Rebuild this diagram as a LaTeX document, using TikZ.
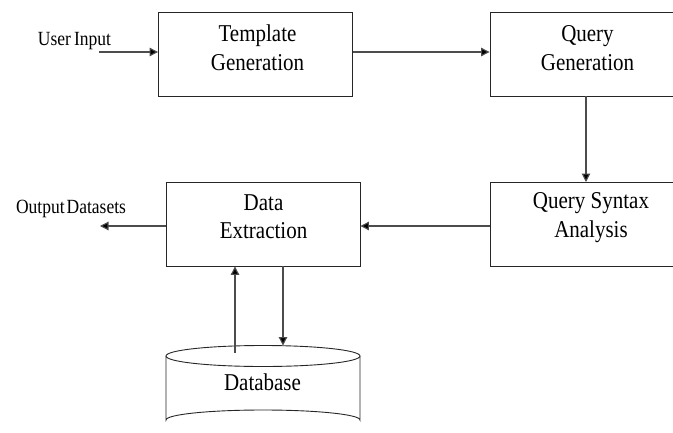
\documentclass[tikz,border=0pt]{standalone}
\usepackage{fontspec}
\setmainfont{Liberation Serif}
\usetikzlibrary{arrows.meta}
% slightly tall lettering
\newcommand{\tallword}[1]{\scalebox{1}[1.15]{#1}}
\begin{document}
\begin{tikzpicture}[x=1pt,y=-1pt,
  block/.style={draw=black!85,line width=0.9pt,minimum width=194pt,minimum height=84pt,inner sep=0pt},
  btext/.style={inner sep=0pt,anchor=base,font=\fontsize{21}{24}\selectfont},
  lbl/.style={inner sep=0pt,anchor=base,font=\fontsize{17.5}{20}\selectfont},
  flow/.style={draw=black!70,line width=1.1pt,-{Triangle[length=8.5pt,width=8.5pt,fill=black]}}]
\useasboundingbox (0,0) rectangle (673,432);
\clip (0,0) rectangle (673,432);

% process boxes
\node[block] (tg)  at (255.5,54) {};
\node[block] (qg)  at (587,54)   {};
\node[block] (qsa) at (587,224)  {};
\node[block] (de)  at (263,224)  {};

% box texts
\node[btext] (tg1)  at (257.5,41)  {\tallword{Template}};
\node[btext] (tg2)  at (257.5,70)  {\tallword{Generation}};
\node[btext] (qg1)  at (587.5,41)  {\tallword{Query}};
\node[btext] (qg2)  at (587.5,70)  {\tallword{Generation}};
\node[btext] (qsa1) at (591,208)   {\tallword{Query Syntax}};
\node[btext] (qsa2) at (591,237)   {\tallword{Analysis}};
\node[btext] (de1)  at (263.5,210) {\tallword{Data}};
\node[btext] (de2)  at (263.5,238) {\tallword{Extraction}};

% database cylinder
\draw[black!85,line width=0.9pt,fill=white]
  (166,356) -- (166,420) arc[start angle=180,end angle=360,x radius=97,y radius=10]
  -- (360,356);
\draw[black!85,line width=0.9pt] (263,356) ellipse[x radius=97,y radius=10.5];
\node[btext] (db) at (262.5,390) {\tallword{Database}};
\coordinate (dbup) at (235,353);
\coordinate (dbdown) at (283,345.5);

% free ends and labels
\coordinate (uin) at (99,52);
\coordinate (out) at (100,226);
\node[lbl] (ulbl) at (74.5,45) {\tallword{User\hspace{0.18em}Input}};
\node[lbl] (olbl) at (71,213) {\tallword{Output\hspace{0.12em}Datasets}};

% connectors
\draw[flow] (uin) -- (uin -| tg.west);
\draw[flow] (tg.east |- uin) -- (qg.west |- uin);
\draw[flow] (586,96) -- (586,182);
\draw[flow] (qsa.west |- out) -- (de.east |- out);
\draw[flow] (de.west |- out) -- (out);
\draw[flow] (dbup) -- (dbup |- de.south);
\draw[flow] (dbdown |- de.south) -- (dbdown);
\end{tikzpicture}
\end{document}
